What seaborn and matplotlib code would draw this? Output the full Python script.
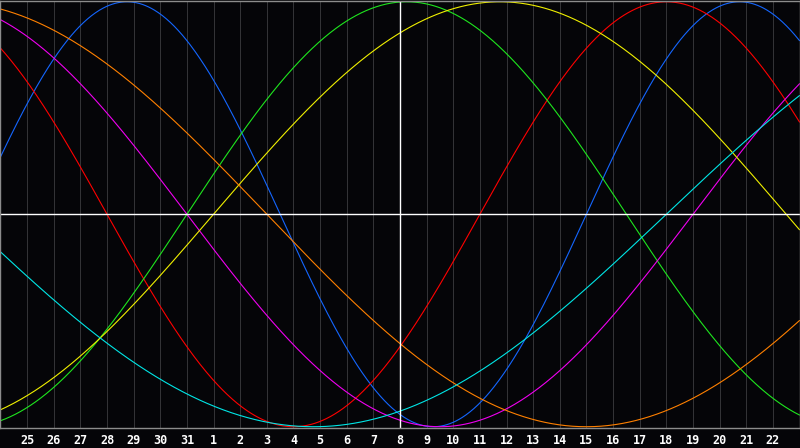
import numpy as np
import pandas as pd
import matplotlib
matplotlib.use("Agg")
import matplotlib.pyplot as plt
import seaborn as sns

# biorhythm cycles: length in days and line colour
cycle_names = ["physical", "emotional", "intellectual", "intuitive", "aesthetic", "awareness", "spiritual"]
cycle_days = [23, 28, 33, 38, 43, 48, 53]
cycle_colors = ["#1466ff", "#ff0000", "#1ee61e", "#f000f0", "#f0f000", "#ff8000", "#00e6e6"]

# 30 day window, labels on the day lines, today is "8"
day_labels = ["25", "26", "27", "28", "29", "30", "31", "1", "2", "3", "4", "5", "6", "7", "8",
              "9", "10", "11", "12", "13", "14", "15", "16", "17", "18", "19", "20", "21", "22"]
days_lived_at_start = 34478
today_index = 15
window_days = 30

bg = "#050508"

sns.set_style("dark")
plt.rcParams["font.family"] = ["DejaVu Sans Mono", "DejaVu Sans"]

# sample each cycle finely across the window
t = np.linspace(0, window_days, 801)
rows = []
for name, period in zip(cycle_names, cycle_days):
    vals = np.sin(2 * np.pi * (days_lived_at_start + t) / period)
    rows.append(pd.DataFrame({"day": t, "value": vals, "cycle": name}))
df = pd.concat(rows, ignore_index=True)

fig = plt.figure(figsize=(8, 4.48), dpi=100, facecolor=bg)
ax = fig.add_axes([0.0006, 20 / 448, 0.9988, 427.5 / 448])
ax.set_facecolor(bg)

ax.set_xticks(np.arange(1, len(day_labels) + 1), labels=day_labels)
ax.grid(axis="x", color="#333336", linewidth=0.75)
ax.grid(axis="y", visible=False)

sns.lineplot(data=df, x="day", y="value", hue="cycle",
             palette=dict(zip(cycle_names, cycle_colors)),
             estimator=None, sort=False, legend=False, linewidth=0.8, ax=ax)

ax.axhline(0, color="white", linewidth=1.0)
ax.axvline(today_index, color="white", linewidth=1.0)

ax.set_xlim(0, window_days)
ax.set_ylim(-1.006, 1.006)
ax.set_yticks([])
ax.set_xlabel("")
ax.set_ylabel("")
ax.tick_params(axis="x", length=0, pad=4, labelsize=8.5, labelcolor="white")
for lbl in ax.get_xticklabels():
    lbl.set_fontweight("bold")

for side in ["left", "right", "top", "bottom"]:
    ax.spines[side].set_visible(True)
    ax.spines[side].set_color("#8c8c8c")
    ax.spines[side].set_linewidth(1.0)

fig.savefig("out.png", dpi=100, facecolor=bg)
